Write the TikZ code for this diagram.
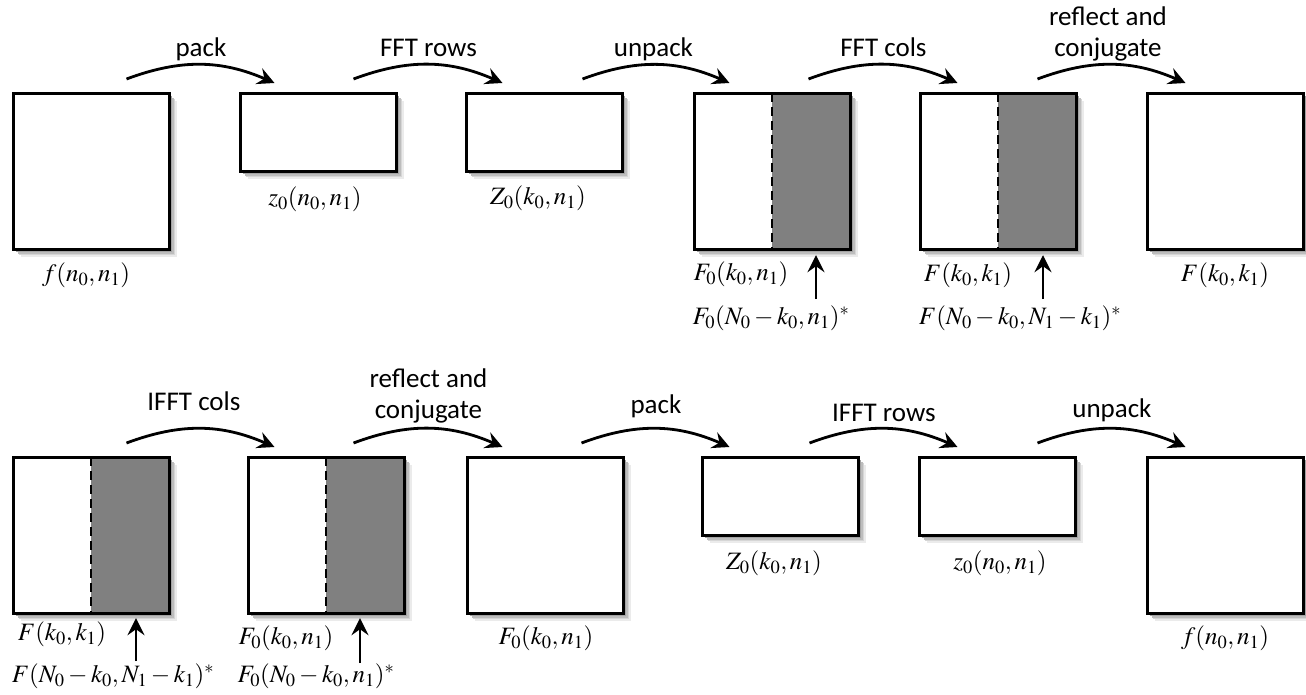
\documentclass[tikz,border=0pt]{standalone}
\usepackage{mathptmx}
\usepackage[no-math]{fontspec}
\newfontfamily\labfont{Carlito}
\usetikzlibrary{arrows.meta,calc}

\begin{document}
\begin{tikzpicture}[x=1pt,y=1pt,
  mat/.style={draw, line width=3.2pt, fill=white, inner sep=0pt,
    minimum width=156pt, anchor=north west},
  sqbox/.style={mat, minimum height=156pt},
  rcbox/.style={mat, minimum height=78pt},
  halfbox/.style={sqbox, path picture={
      \fill[gray] (path picture bounding box.north) rectangle (path picture bounding box.south east);
      \draw[line width=2.4pt, dash pattern=on 9pt off 5pt]
        (path picture bounding box.north) -- (path picture bounding box.south);}},
  flow/.style={line width=2.8pt, -{Stealth[length=17pt,width=17pt,inset=6pt]}},
  op/.style={font=\labfont\fontsize{27}{31}\selectfont, anchor=base, inner sep=0pt},
  ml/.style={font=\fontsize{25}{30}\selectfont, inner sep=0pt},
]
\useasboundingbox (0,0) rectangle (1306,-694);

% ---------- soft shadows, drawn first so the boxes sit on top ----------
\foreach \x/\y/\h in {11.5/-91.5/156, 238.5/-91.5/78, 464.5/-91.5/78,
    692.5/-91.5/156, 918.5/-91.5/156, 1145.5/-91.5/156,
    11.5/-455.5/156, 246.5/-455.5/156, 465.5/-455.5/156,
    700.5/-455.5/78, 917.5/-455.5/78, 1145.5/-455.5/156}{
  \fill[black!8]  (\x+9,\y-9)     rectangle (\x+165,\y-\h-9);
  \fill[black!16] (\x+7.5,\y-7.5) rectangle (\x+163.5,\y-\h-7.5);
  \fill[black!26] (\x+6,\y-6)     rectangle (\x+162,\y-\h-6);
  \fill[black!36] (\x+4.5,\y-4.5) rectangle (\x+160.5,\y-\h-4.5);
  \fill[black!46] (\x+3,\y-3)     rectangle (\x+159,\y-\h-3);
}

% ---------- forward transform ----------
\node[sqbox]   (t1) at (11.5,-91.5) {};
\node[rcbox]   (t2) at (238.5,-91.5) {};
\node[rcbox]   (t3) at (464.5,-91.5) {};
\node[halfbox] (t4) at (692.5,-91.5) {};
\node[halfbox] (t5) at (918.5,-91.5) {};
\node[sqbox]   (t6) at (1145.5,-91.5) {};

\draw[flow] ($(t1.north west)+(115,12.5)$) to[bend left=22]
  node[op, pos=0.5, yshift=8pt] {pack} ($(t2.north west)+(36,8.5)$);
\draw[flow] ($(t2.north west)+(115,12.5)$) to[bend left=22]
  node[op, pos=0.5, yshift=8pt] {FFT rows} ($(t3.north west)+(38,8.5)$);
\draw[flow] ($(t3.north west)+(118,12.5)$) to[bend left=22]
  node[op, pos=0.5, yshift=8pt, xshift=-3pt] {unpack} ($(t4.north west)+(37,8.5)$);
\draw[flow] ($(t4.north west)+(116,12.5)$) to[bend left=22]
  node[op, pos=0.5, yshift=8pt] {FFT cols} ($(t5.north west)+(39,8.5)$);
\draw[flow] ($(t5.north west)+(119,12.5)$) to[bend left=22]
  node[op, pos=0.5, yshift=8pt, xshift=-4pt]
  {\begin{tabular}[b]{@{}c@{}}reflect and\\conjugate\end{tabular}}
  ($(t6.north west)+(40,8.5)$);

\draw[flow] ($(t4.south west)+(123.5,-48.5)$) -- ($(t4.south west)+(123.5,-4.5)$);
\draw[flow] ($(t5.south west)+(124.5,-48.5)$) -- ($(t5.south west)+(124.5,-4.5)$);

\node[ml] (lt1) at (86,-275)  {$f(n_0,n_1)$};
\node[ml] (lt2) at (315,-199) {$z_0(n_0,n_1)$};
\node[ml] (lt3) at (538,-198) {$Z_0(k_0,n_1)$};
\node[ml] (lt4) at (741,-274) {$F_0(k_0,n_1)$};
\node[ml] (lt5) at (771,-318) {$F_0(N_0-k_0,n_1)^*$};
\node[ml] (lt6) at (968,-275) {$F(k_0,k_1)$};
\node[ml] (lt7) at (1020,-318) {$F(N_0-k_0,N_1-k_1)^*$};
\node[ml] (lt8) at (1225,-275) {$F(k_0,k_1)$};

% ---------- inverse transform ----------
\node[halfbox] (b1) at (11.5,-455.5) {};
\node[halfbox] (b2) at (246.5,-455.5) {};
\node[sqbox]   (b3) at (465.5,-455.5) {};
\node[rcbox]   (b4) at (700.5,-455.5) {};
\node[rcbox]   (b5) at (917.5,-455.5) {};
\node[sqbox]   (b6) at (1145.5,-455.5) {};

\draw[flow] ($(b1.north west)+(115,12.5)$) to[bend left=22]
  node[op, pos=0.5, yshift=18pt, xshift=-7pt] {IFFT cols} ($(b2.north west)+(28,8.5)$);
\draw[flow] ($(b2.north west)+(107,12.5)$) to[bend left=22]
  node[op, pos=0.5, yshift=10pt]
  {\begin{tabular}[b]{@{}c@{}}reflect and\\conjugate\end{tabular}}
  ($(b3.north west)+(37,8.5)$);
\draw[flow] ($(b3.north west)+(116,12.5)$) to[bend left=22]
  node[op, pos=0.5, yshift=15pt] {pack} ($(b4.north west)+(29,8.5)$);
\draw[flow] ($(b4.north west)+(109,12.5)$) to[bend left=22]
  node[op, pos=0.5, yshift=7pt] {IFFT rows} ($(b5.north west)+(40,8.5)$);
\draw[flow] ($(b5.north west)+(120,12.5)$) to[bend left=22]
  node[op, pos=0.5, yshift=11pt] {unpack} ($(b6.north west)+(40,8.5)$);

\draw[flow] ($(b1.south west)+(124.5,-46.5)$) -- ($(b1.south west)+(124.5,-3.5)$);
\draw[flow] ($(b2.south west)+(113.5,-48.5)$) -- ($(b2.south west)+(113.5,-3.5)$);

\node[ml] (lb1) at (62,-634)   {$F(k_0,k_1)$};
\node[ml] (lb2) at (113,-676)  {$F(N_0-k_0,N_1-k_1)^*$};
\node[ml] (lb3) at (286,-638)  {$F_0(k_0,n_1)$};
\node[ml] (lb4) at (316,-676)  {$F_0(N_0-k_0,n_1)^*$};
\node[ml] (lb5) at (546,-638)  {$F_0(k_0,n_1)$};
\node[ml] (lb6) at (774,-563)  {$Z_0(k_0,n_1)$};
\node[ml] (lb7) at (1000,-563) {$z_0(n_0,n_1)$};
\node[ml] (lb8) at (1225,-638) {$f(n_0,n_1)$};
\end{tikzpicture}
\end{document}
